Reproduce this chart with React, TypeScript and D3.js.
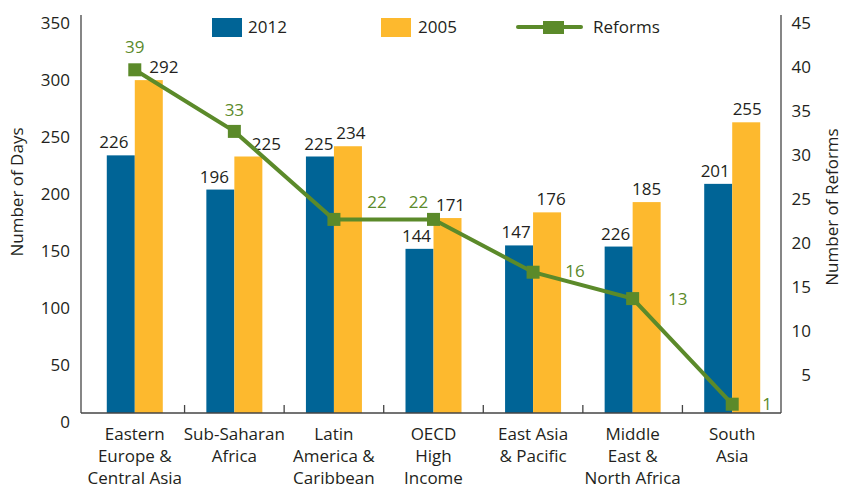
import React from "react";
import { scaleBand, scaleLinear, line } from "d3";

// chart data
const categories = [
  "Eastern\nEurope &\nCentral Asia",
  "Sub-Saharan\nAfrica",
  "Latin\nAmerica &\nCaribbean",
  "OECD\nHigh\nIncome",
  "East Asia\n& Pacific",
  "Middle\nEast &\nNorth Africa",
  "South\nAsia",
];
const days2012 = [226, 196, 225, 144, 147, 146, 201];
const labels2012 = ["226", "196", "225", "144", "147", "226", "201"];
const days2005 = [292, 225, 234, 171, 176, 185, 255];
const reforms = [39, 32, 22, 22, 16, 13, 1];
const reformLabels = ["39", "33", "22", "22", "16", "13", "1"];
const leftTicks = [0, 50, 100, 150, 200, 250, 300, 350];
const rightTicks = [5, 10, 15, 20, 25, 30, 35, 40, 45];
const series = ["2012", "2005"];

// label placement tweaks (px), kept apart from the data
const nudge2012 = [-7, -6, -1, -3, -3, -3, -3];
const nudge2005 = [15, 18, 3, 3, 4, 0, 1];
const reformLabelOffset = [
  [0, -17],
  [0, -15],
  [43, -11],
  [-15, -11],
  [42, 5],
  [45, 6],
  [35, 6],
];

const W = 842;
const H = 489;
const BLUE = "#006496";
const YELLOW = "#FDB92E";
const GREEN = "#5B8A2A";
const TEXT = "#231F20";
const FONT = "'Open Sans', 'Noto Sans', sans-serif";

function App() {
  const left = 81;
  const right = 781;
  const bottom = 413;

  const x0 = scaleBand<number>()
    .domain(categories.map((_, i) => i))
    .range([85, 782]);
  const pairW = 56;
  const x1 = scaleBand<string>().domain(series).range([0, pairW]);
  const off = (x0.bandwidth() - pairW) / 2;

  const yL = scaleLinear().domain([0, 350]).range([bottom, 14]);
  const yR = scaleLinear().domain([0, 45]).range([bottom, 17]);

  const cx = (i: number) => (x0(i) as number) + x0.bandwidth() / 2;

  const reformLine = line<number>()
    .x((_, i) => cx(i))
    .y((d) => yR(d));

  return (
    <svg
      width={W}
      height={H}
      style={{ position: "absolute", left: 0, top: 0, background: "#fff" }}
      fontFamily={FONT}
    >
      {/* bars */}
      {categories.map((_, i) => {
        const bx = (x0(i) as number) + off;
        const b1 = bx + (x1("2012") as number);
        const b2 = bx + (x1("2005") as number);
        const bw = x1.bandwidth();
        return (
          <g key={i}>
            <rect x={b1} y={yL(days2012[i])} width={bw} height={bottom - yL(days2012[i])} fill={BLUE} />
            <rect x={b2} y={yL(days2005[i])} width={bw} height={bottom - yL(days2005[i])} fill={YELLOW} />
            <text x={b1 + bw / 2 + nudge2012[i]} y={yL(days2012[i]) - 7} textAnchor="middle" fontSize={17} fill={TEXT}>
              {labels2012[i]}
            </text>
            <text x={b2 + bw / 2 + nudge2005[i]} y={yL(days2005[i]) - 7} textAnchor="middle" fontSize={17} fill={TEXT}>
              {days2005[i]}
            </text>
          </g>
        );
      })}

      {/* axes */}
      <line x1={left} x2={left} y1={15} y2={bottom} stroke="#444" strokeWidth={1.3} />
      <line x1={right} x2={right} y1={15} y2={bottom} stroke="#444" strokeWidth={1.3} />
      <line x1={left} x2={right} y1={bottom} y2={bottom} stroke="#444" strokeWidth={1.3} />
      {categories.slice(1).map((_, i) => (
        <line key={i} x1={x0(i + 1)} x2={x0(i + 1)} y1={bottom} y2={bottom - 8} stroke="#444" strokeWidth={1.3} />
      ))}
      {leftTicks.map((t) => (
        <text key={t} x={70} y={yL(t) + 15} textAnchor="end" fontSize={17} fill={TEXT}>
          {t}
        </text>
      ))}
      {rightTicks.map((t) => (
        <text key={t} x={811} y={yR(t) + 12} textAnchor="end" fontSize={17} fill={TEXT}>
          {t}
        </text>
      ))}
      <text transform="translate(23,192) rotate(-90)" textAnchor="middle" fontSize={17} fill={TEXT}>
        Number of Days
      </text>
      <text transform="translate(838,207) rotate(-90)" textAnchor="middle" fontSize={17} fill={TEXT}>
        Number of Reforms
      </text>

      {/* category labels */}
      {categories.map((c, i) => (
        <text key={i} x={cx(i)} y={440} textAnchor="middle" fontSize={17} fill={TEXT}>
          {c.split("\n").map((ln, j) => (
            <tspan key={j} x={cx(i)} dy={j === 0 ? 0 : 22}>
              {ln}
            </tspan>
          ))}
        </text>
      ))}

      {/* reforms line */}
      <path d={reformLine(reforms) || ""} fill="none" stroke={GREEN} strokeWidth={4} />
      {reforms.map((r, i) => {
        const [dx, dy] = reformLabelOffset[i];
        return (
          <g key={i}>
            <rect x={cx(i) - 6.5} y={yR(r) - 6.5} width={13} height={13} fill={GREEN} />
            <text x={cx(i) + dx} y={yR(r) + dy} textAnchor="middle" fontSize={17} fill={GREEN}>
              {reformLabels[i]}
            </text>
          </g>
        );
      })}

      {/* legend */}
      <rect x={212} y={18} width={30} height={19} fill={BLUE} />
      <text x={248} y={33} fontSize={17} fill={TEXT}>2012</text>
      <rect x={381} y={18} width={30} height={19} fill={YELLOW} />
      <text x={418} y={33} fontSize={17} fill={TEXT}>2005</text>
      <line x1={518} x2={581} y1={27} y2={27} stroke={GREEN} strokeWidth={4} strokeLinecap="round" />
      <rect x={543} y={21} width={21} height={13} fill={GREEN} />
      <text x={593} y={33} fontSize={17} fill={TEXT}>Reforms</text>
    </svg>
  );
}

export default App;
